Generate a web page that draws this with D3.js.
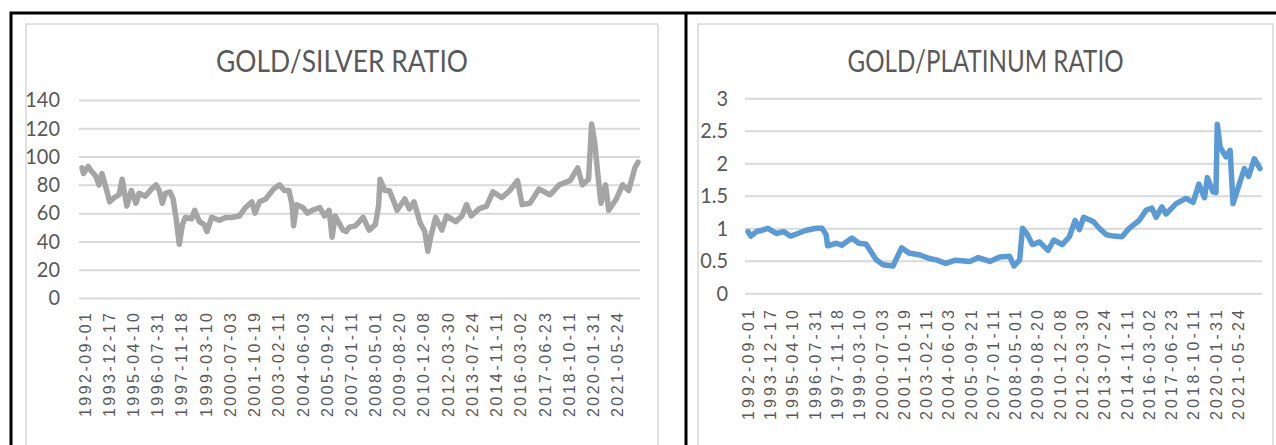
<!DOCTYPE html>
<html>
<head>
<meta charset="utf-8">
<script src="https://cdn.jsdelivr.net/npm/d3@7"></script>
<style>
    body { margin: 0; background: #fff; }
    svg { display: block; }
</style>
</head>
<body>
<svg id="chart" width="1276" height="445"></svg>
<script>
//  Data ---
var tickLabels = ["1992-09-01", "1993-12-17", "1995-04-10", "1996-07-31", "1997-11-18", "1999-03-10",
    "2000-07-03", "2001-10-19", "2003-02-11", "2004-06-03", "2005-09-21", "2007-01-11", "2008-05-01",
    "2009-08-20", "2010-12-08", "2012-03-30", "2013-07-24", "2014-11-11", "2016-03-02", "2017-06-23",
    "2018-10-11", "2020-01-31", "2021-05-24"];
var firstDate = "1992-09-01", lastDate = "2022-09-01";

var silverDates = ["1992-09", "1992-10", "1993-01", "1993-03", "1993-06", "1993-08", "1993-10", "1994-01",
    "1994-03", "1994-06", "1994-09", "1994-11", "1995-02", "1995-05", "1995-08", "1995-10", "1996-02",
    "1996-06", "1996-09", "1996-11", "1997-01", "1997-03", "1997-06", "1997-08", "1997-10", "1997-12",
    "1998-02", "1998-04", "1998-08", "1998-10", "1999-01", "1999-04", "1999-06", "1999-09", "2000-02",
    "2000-06", "2000-10", "2001-03", "2001-07", "2001-11", "2002-01", "2002-04", "2002-08", "2003-01",
    "2003-05", "2003-08", "2003-11", "2004-01", "2004-02", "2004-04", "2004-08", "2004-11", "2005-02",
    "2005-07", "2005-10", "2006-01", "2006-03", "2006-05", "2006-10", "2006-12", "2007-02", "2007-06",
    "2007-11", "2008-03", "2008-07", "2008-09", "2008-10", "2009-01", "2009-04", "2009-07", "2009-09",
    "2010-02", "2010-05", "2010-08", "2010-12", "2011-03", "2011-05", "2011-07", "2011-10", "2012-02",
    "2012-05", "2012-11", "2013-03", "2013-06", "2013-09", "2014-02", "2014-07", "2014-11", "2015-05",
    "2015-10", "2016-03", "2016-06", "2016-11", "2017-05", "2017-12", "2018-06", "2019-01", "2019-06",
    "2019-09", "2020-01", "2020-03", "2020-05", "2020-07", "2020-09", "2020-12", "2021-02", "2021-07",
    "2021-11", "2022-03", "2022-07", "2022-09"];
var silverRatio = [92, 88, 93, 90, 86, 80, 88, 76,
    68, 71, 73, 84, 65, 76, 67, 74, 72,
    77, 80, 76, 67, 74, 75, 70, 56, 38,
    52, 57, 56, 62, 54, 52, 47, 57, 55,
    57, 57, 58, 64, 68, 60, 68, 70, 77,
    80, 76, 76, 66, 51, 66, 64, 60, 62,
    64, 58, 62, 43, 58, 48, 47, 50, 51,
    57, 48, 52, 65, 84, 76, 76, 68, 62,
    70, 63, 68, 53, 47, 33, 44, 57, 48,
    58, 54, 58, 66, 58, 63, 65, 75, 71,
    76, 83, 66, 67, 77, 73, 80, 83, 92,
    80, 84, 123, 110, 88, 67, 80, 62, 70,
    80, 76, 92, 96];

var platinumDates = ["1992-09", "1992-11", "1993-03", "1993-07", "1993-11", "1994-05", "1994-10", "1995-03",
    "1995-08", "1996-02", "1996-09", "1997-01", "1997-04", "1997-05", "1997-11", "1998-03", "1998-10",
    "1999-03", "1999-08", "2000-03", "2000-08", "2001-03", "2001-06", "2001-09", "2002-02", "2002-10",
    "2003-04", "2003-10", "2004-04", "2004-11", "2005-09", "2006-03", "2006-11", "2007-06", "2008-01",
    "2008-04", "2008-08", "2008-10", "2009-01", "2009-05", "2009-10", "2010-04", "2010-08", "2011-02",
    "2011-07", "2011-11", "2012-02", "2012-05", "2012-12", "2013-04", "2013-09", "2014-02", "2014-08",
    "2015-01", "2015-08", "2016-01", "2016-05", "2016-08", "2016-12", "2017-03", "2017-10", "2018-05",
    "2018-10", "2019-02", "2019-06", "2019-08", "2019-12", "2020-02", "2020-03", "2020-05", "2020-09",
    "2020-12", "2021-02", "2021-06", "2021-10", "2022-01", "2022-05", "2022-09"];
var platinumRatio = [0.95, 0.88, 0.95, 0.97, 1.0, 0.92, 0.95, 0.88,
    0.92, 0.97, 1.0, 1.0, 0.9, 0.73, 0.77, 0.74, 0.85,
    0.77, 0.76, 0.52, 0.44, 0.42, 0.56, 0.70, 0.62, 0.59,
    0.54, 0.51, 0.46, 0.51, 0.49, 0.55, 0.49, 0.56, 0.57,
    0.42, 0.51, 1.0, 0.92, 0.75, 0.79, 0.66, 0.82, 0.75,
    0.87, 1.12, 0.98, 1.17, 1.1, 1.0, 0.9, 0.88, 0.87,
    1.0, 1.12, 1.28, 1.31, 1.17, 1.33, 1.22, 1.38, 1.46,
    1.40, 1.68, 1.47, 1.78, 1.56, 1.55, 2.6, 2.25, 2.1,
    2.2, 1.38, 1.65, 1.92, 1.8, 2.07, 1.92];

var silverTicks = [0, 20, 40, 60, 80, 100, 120, 140];
var platinumTicks = [0, 0.5, 1, 1.5, 2, 2.5, 3];

var parseMonth = d3.timeParse("%Y-%m");
var parseDay = d3.timeParse("%Y-%m-%d");

var svg = d3.select("#chart");

//  Helpers ---
function fitWidth(sel, k) {
    sel.each(function () {
        var w = this.getComputedTextLength();
        d3.select(this)
            .attr("textLength", w * k)
            .attr("lengthAdjust", "spacingAndGlyphs");
    });
}

function drawPanel(opt) {
    var g = svg.append("g").attr("class", "panel");

    //  Chart area border ---
    g.append("rect")
        .attr("x", opt.box[0])
        .attr("y", 24)
        .attr("width", opt.box[1] - opt.box[0])
        .attr("height", 460)
        .attr("fill", "none")
        .attr("stroke", "#d9d9d9")
        .attr("stroke-width", 1.5);

    var x = d3.scaleTime()
        .domain([parseDay(firstDate), parseDay(lastDate)])
        .range([opt.plot[0] + 3, opt.plot[1] - 2]);
    var y = d3.scaleLinear()
        .domain(opt.domain)
        .range([opt.yRange[0], opt.yRange[1]]);

    //  Title ---
    g.append("text")
        .attr("x", (opt.box[0] + opt.box[1]) / 2)
        .attr("y", 72)
        .attr("text-anchor", "middle")
        .attr("font-family", "Lato, 'Open Sans', sans-serif")
        .attr("font-size", 31)
        .attr("fill", "#595959")
        .attr("textLength", opt.titleWidth)
        .attr("lengthAdjust", "spacingAndGlyphs")
        .text(opt.title);

    //  Gridlines and value axis ---
    var yAxis = d3.axisLeft(y)
        .tickValues(opt.ticks)
        .tickSize(-(opt.plot[1] - opt.plot[0]))
        .tickPadding(opt.labelGap)
        .tickFormat(d3.format("~g"));
    var ya = g.append("g")
        .attr("transform", "translate(" + opt.plot[0] + ",0)")
        .call(yAxis);
    ya.select(".domain").remove();
    ya.selectAll(".tick line")
        .attr("stroke", "#d9d9d9")
        .attr("stroke-width", 2);
    ya.selectAll(".tick text")
        .attr("font-family", "Lato, 'Open Sans', sans-serif")
        .attr("font-size", 21)
        .attr("fill", "#595959")
        .call(fitWidth, 0.95);

    //  Category labels ---
    g.append("g")
        .selectAll("text")
        .data(tickLabels)
        .join("text")
        .attr("transform", function (d) {
            return "translate(" + (x(parseDay(d)) + opt.labelShift) + "," + opt.labelTop + ") rotate(-90)";
        })
        .attr("text-anchor", "end")
        .attr("dy", "0.36em")
        .attr("font-family", "'Liberation Sans', Arial, sans-serif")
        .attr("font-size", 16)
        .attr("fill", "#595959")
        .attr("textLength", opt.labelLength)
        .attr("lengthAdjust", "spacing")
        .text(function (d) { return d; });

    //  Series ---
    var line = d3.line()
        .x(function (d) { return x(d.date); })
        .y(function (d) { return y(d.value); });
    var pts = opt.dates.map(function (d, i) {
        return { date: parseMonth(d), value: opt.values[i] };
    });
    g.append("path")
        .datum(pts)
        .attr("d", line)
        .attr("fill", "none")
        .attr("stroke", opt.color)
        .attr("stroke-width", 5.5)
        .attr("stroke-linejoin", "round")
        .attr("stroke-linecap", "round");
}

drawPanel({
    title: "GOLD/SILVER RATIO",
    titleWidth: 252,
    box: [26, 658],
    plot: [79, 640],
    yRange: [298, 100],
    domain: [0, 140],
    ticks: silverTicks,
    labelGap: 19,
    labelTop: 313,
    labelLength: 104,
    labelShift: 3,
    dates: silverDates,
    values: silverRatio,
    color: "#a5a5a5"
});

drawPanel({
    title: "GOLD/PLATINUM RATIO",
    titleWidth: 276,
    box: [698, 1273],
    plot: [745, 1262],
    yRange: [293.3, 98.3],
    domain: [0, 3],
    ticks: platinumTicks,
    labelGap: 17,
    labelTop: 310,
    labelLength: 110,
    labelShift: 0,
    dates: platinumDates,
    values: platinumRatio,
    color: "#5b9bd5"
});

//  Outer frame ---
svg.append("path")
    .attr("d", "M11,445V13H1276M686,13V445")
    .attr("fill", "none")
    .attr("stroke", "#000")
    .attr("stroke-width", 3);
</script>
</body>
</html>
